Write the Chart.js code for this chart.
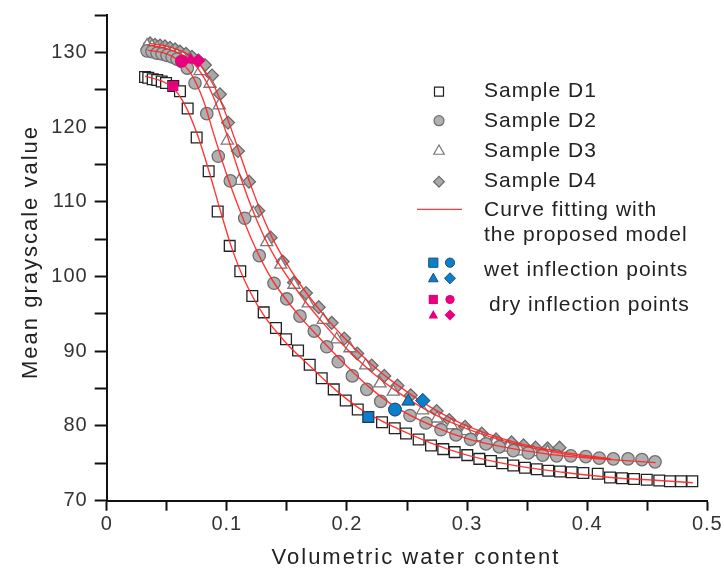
<!DOCTYPE html>
<html>
<head>
<meta charset="utf-8">
<script src="https://cdn.jsdelivr.net/npm/chart.js@4.4.0/dist/chart.umd.min.js"></script>
<style>
  body { margin: 0; background: #fff; }
  #wrap { width: 724px; height: 570px; }
</style>
</head>
<body>
<div id="wrap"><canvas id="chartCanvas" width="724" height="570"></canvas></div>
<script>
// Sample D1 (squares)
const d1X = [0.0319, 0.0346, 0.0383, 0.0421, 0.0458, 0.0494, 0.0554, 0.0610, 0.0674, 0.0749, 0.0849, 0.0924,
    0.1024, 0.1112, 0.1212, 0.1307, 0.1409, 0.1493, 0.1593, 0.1690, 0.1790, 0.1890, 0.1990, 0.2090, 0.2178,
    0.2292, 0.2398, 0.2492, 0.2597, 0.2700, 0.2802, 0.2897, 0.3002, 0.3102, 0.3199, 0.3293, 0.3385, 0.3482,
    0.3580, 0.3676, 0.3774, 0.3871, 0.3968, 0.4088, 0.4190, 0.4290, 0.4390, 0.4496, 0.4600, 0.4689, 0.4781, 0.4875];
const d1Y = [126.7, 126.6, 126.4, 126.3, 126.1, 125.9, 125.5, 124.8, 122.5, 118.6, 114.1, 108.7,
    104.1, 100.7, 97.4, 95.2, 93.1, 91.6, 90.1, 88.2, 86.4, 84.9, 83.4, 82.2, 81.2,
    80.5, 79.7, 79.0, 78.2, 77.4, 76.9, 76.5, 76.1, 75.6, 75.3, 75.0, 74.7, 74.4,
    74.2, 74.0, 73.9, 73.8, 73.7, 73.6, 73.1, 73.0, 72.9, 72.8, 72.7, 72.6, 72.6, 72.6];

// Sample D2 (circles)
const d2X = [0.0336, 0.0377, 0.0419, 0.0460, 0.0502, 0.0544, 0.0585, 0.0624, 0.0671, 0.0735, 0.0833, 0.0929,
    0.1029, 0.1149, 0.1270, 0.1393, 0.1499, 0.1609, 0.1728, 0.1832, 0.1928, 0.2045, 0.2165, 0.2281, 0.2400,
    0.2525, 0.2658, 0.2783, 0.2908, 0.3030, 0.3158, 0.3268, 0.3385, 0.3510, 0.3630, 0.3746, 0.3863, 0.3988,
    0.4101, 0.4218, 0.4340, 0.4456, 0.4565];
const d2Y = [130.2, 130.1, 129.9, 129.8, 129.6, 129.4, 129.1, 128.8, 127.9, 125.9, 121.8, 116.1,
    112.8, 107.8, 102.8, 99.1, 97.0, 94.7, 92.7, 90.6, 88.6, 86.7, 84.9, 83.3, 82.2,
    81.4, 80.4, 79.5, 78.8, 78.2, 77.6, 77.2, 76.7, 76.4, 76.1, 76.0, 76.0, 75.9,
    75.7, 75.6, 75.6, 75.5, 75.2];

// Sample D3 (triangles)
const d3X = [0.0336, 0.0377, 0.0419, 0.0460, 0.0502, 0.0544, 0.0585, 0.0635, 0.0699, 0.0777, 0.0860, 0.0937,
    0.1004, 0.1104, 0.1220, 0.1332, 0.1449, 0.1559, 0.1678, 0.1803, 0.1915, 0.2025, 0.2156, 0.2275, 0.2386,
    0.2511, 0.2630, 0.2750, 0.2870, 0.2990, 0.3110, 0.3230, 0.3340, 0.3440, 0.3550, 0.3670];
const d3Y = [130.9, 130.8, 130.6, 130.4, 130.2, 130.0, 129.7, 129.4, 129.0, 127.5, 125.8, 122.9,
    118.2, 112.8, 108.5, 104.6, 101.6, 98.9, 96.4, 94.2, 91.6, 90.4, 88.1, 85.7, 84.6,
    83.3, 82.1, 81.0, 80.1, 79.3, 78.5, 77.8, 77.1, 76.6, 76.5, 76.5];

// Sample D4 (diamonds)
const d4X = [0.0361, 0.0402, 0.0444, 0.0485, 0.0527, 0.0569, 0.0610, 0.0660, 0.0710, 0.0763, 0.0818, 0.0877,
    0.0943, 0.1010, 0.1093, 0.1185, 0.1262, 0.1365, 0.1465, 0.1559, 0.1659, 0.1765, 0.1873, 0.1978, 0.2086,
    0.2206, 0.2311, 0.2421, 0.2531, 0.2631, 0.2747, 0.2852, 0.2983, 0.3122, 0.3241, 0.3370, 0.3470, 0.3570,
    0.3670, 0.3770];
const d4Y = [131.2, 131.0, 130.9, 130.8, 130.6, 130.4, 130.1, 129.8, 129.4, 128.9, 128.3, 126.9,
    124.4, 120.6, 116.8, 112.7, 108.8, 105.2, 102.0, 99.2, 97.8, 95.9, 93.8, 91.7, 89.7,
    88.1, 86.7, 85.4, 84.1, 83.4, 82.0, 80.8, 79.9, 79.0, 78.2, 77.8, 77.4, 77.1,
    77.0, 77.1];

// fitted curves
const fit1X = [0.032, 0.045, 0.055, 0.065, 0.075, 0.085, 0.095, 0.105, 0.115, 0.13, 0.15, 0.17, 0.19, 0.21,
    0.24, 0.27, 0.30, 0.34, 0.38, 0.42, 0.46, 0.488];
const fit1Y = [126.8, 126.2, 125.3, 123.0, 119.2, 114.2, 108.6, 103.4, 99.4, 95.0, 91.0, 87.9, 84.9, 82.4,
    79.8, 77.7, 76.1, 74.7, 73.8, 73.1, 72.7, 72.4];
const fit2X = [0.034, 0.05, 0.06, 0.07, 0.08, 0.09, 0.10, 0.11, 0.12, 0.13, 0.14, 0.16, 0.18, 0.20, 0.22,
    0.24, 0.27, 0.30, 0.34, 0.38, 0.42, 0.457];
const fit2Y = [130.3, 129.8, 128.9, 127.2, 123.8, 118.6, 113.6, 109.2, 105.2, 101.8, 99.0, 94.8, 91.3, 88.0, 85.0,
    82.6, 80.1, 78.3, 76.9, 76.0, 75.5, 75.1];
const fit3X = [0.034, 0.05, 0.06, 0.07, 0.08, 0.09, 0.10, 0.11, 0.12, 0.13, 0.14, 0.16, 0.18, 0.20, 0.22,
    0.24, 0.27, 0.30, 0.34, 0.38, 0.42];
const fit3Y = [131.0, 130.5, 129.9, 128.9, 126.9, 123.6, 119.0, 114.0, 109.5, 105.7, 102.6, 97.8, 93.8, 90.3, 87.3,
    84.8, 81.8, 79.6, 77.6, 76.3, 75.5];
const fit4X = [0.036, 0.05, 0.06, 0.07, 0.08, 0.09, 0.10, 0.11, 0.12, 0.13, 0.14, 0.16, 0.18, 0.20, 0.22,
    0.24, 0.27, 0.30, 0.34, 0.38, 0.42];
const fit4Y = [131.2, 130.8, 130.3, 129.5, 127.9, 125.3, 121.4, 116.8, 112.2, 108.0, 104.5, 99.2, 95.0, 91.4, 88.3,
    85.7, 82.5, 80.0, 77.8, 76.5, 75.6];

// inflection points, in order D1, D2, D3, D4
const dryX = [0.0554, 0.0624, 0.0699, 0.0763];
const dryY = [125.5, 128.8, 129.0, 128.9];
const wetX = [0.2178, 0.2400, 0.2511, 0.2631];
const wetY = [81.2, 82.2, 83.3, 83.4];

const legendLabels = ['Sample D1', 'Sample D2', 'Sample D3', 'Sample D4',
    'Curve fitting with', 'the proposed model', 'wet inflection points', 'dry inflection points'];
const xTitle = 'Volumetric water content';
const yTitle = 'Mean grayscale value';

const FONT = '"Liberation Sans", Arial, sans-serif';
const PINK = '#e6007e';
const BLUE = '#0a7fcc';
const RED = 'rgba(255, 35, 35, 0.9)';

function pts(xs, ys) {
    return xs.map((x, i) => ({ x: x, y: ys[i] }));
}

function marker(ctx, style, x, y, r, fill, stroke, lw) {
    ctx.beginPath();
    if (style === 'rect') {
        ctx.rect(x - r, y - r, 2 * r, 2 * r);
    } else if (style === 'circle') {
        ctx.arc(x, y, r, 0, Math.PI * 2);
    } else if (style === 'triangle') {
        ctx.moveTo(x, y - r * 1.1);
        ctx.lineTo(x + r * 1.05, y + r * 0.75);
        ctx.lineTo(x - r * 1.05, y + r * 0.75);
        ctx.closePath();
    } else {
        ctx.moveTo(x, y - r * 1.2);
        ctx.lineTo(x + r * 1.2, y);
        ctx.lineTo(x, y + r * 1.2);
        ctx.lineTo(x - r * 1.2, y);
        ctx.closePath();
    }
    ctx.fillStyle = fill;
    ctx.fill();
    if (lw > 0) {
        ctx.lineWidth = lw;
        ctx.strokeStyle = stroke;
        ctx.stroke();
    }
}

// legend + axis titles drawn by hand
const overlay = {
    id: 'overlay',
    beforeDraw(chart) {
        chart.ctx.letterSpacing = '1px';
    },
    afterDraw(chart) {
        const ctx = chart.ctx;
        ctx.save();
        ctx.fillStyle = '#222';
        ctx.textBaseline = 'middle';
        ctx.letterSpacing = '2px';
        ctx.font = '22px ' + FONT;
        ctx.textAlign = 'center';
        ctx.fillText(xTitle, 416, 558);
        ctx.save();
        ctx.translate(31, 252);
        ctx.rotate(-Math.PI / 2);
        ctx.fillText(yTitle, 0, 0);
        ctx.restore();

        // legend
        ctx.letterSpacing = '1px';
        ctx.font = '21px ' + FONT;
        ctx.textAlign = 'left';
        const rows = [91.7, 121.5, 151.5, 181.7, 210.7, 235, 270, 305];
        const tx = 484;
        legendLabels.forEach((t, i) => {
            ctx.fillStyle = '#222';
            ctx.fillText(t, i === 7 ? tx + 5 : tx, rows[i]);
        });
        marker(ctx, 'rect', 439, 91.7, 4.5, '#fff', '#222', 1.2);
        marker(ctx, 'circle', 439, 120.7, 5, '#b0b0b0', '#6e6e6e', 1.2);
        marker(ctx, 'triangle', 439, 150.5, 5, '#fff', '#777', 1.2);
        marker(ctx, 'diamond', 439, 181.7, 4.5, '#a8a8a8', '#6a6a6a', 1.2);
        ctx.beginPath();
        ctx.moveTo(417, 209.3);
        ctx.lineTo(462, 209.3);
        ctx.lineWidth = 1.3;
        ctx.strokeStyle = RED;
        ctx.stroke();
        const g = [['rect', 433.3, 0], ['circle', 450, 0], ['triangle', 433.3, 15.6], ['diamond', 450, 15.6]];
        g.forEach(m => {
            marker(ctx, m[0], m[1], 262.7 + m[2], 4.6, BLUE, '#1d4d7a', 1);
            marker(ctx, m[0], m[1], 299.5 + m[2], 4.6, PINK, PINK, 0);
        });
        ctx.restore();
    }
};

const shapes = ['rect', 'circle', 'triangle', 'rectRot'];
const shapeRadius = [7.2, 6.4, 7.2, 7.2];

new Chart(document.getElementById('chartCanvas').getContext('2d'), {
    type: 'scatter',
    data: {
        datasets: [
            { label: 'dry', data: pts(dryX, dryY), order: 0, pointStyle: shapes, pointRadius: shapeRadius,
              backgroundColor: PINK, borderColor: PINK, borderWidth: 0 },
            { label: 'wet', data: pts(wetX, wetY), order: 0, pointStyle: shapes, pointRadius: shapeRadius,
              backgroundColor: BLUE, borderColor: '#1d4d7a', borderWidth: 1 },
            { label: 'fit1', data: pts(fit1X, fit1Y), order: 1, showLine: true, pointRadius: 0,
              borderColor: RED, borderWidth: 1.4, cubicInterpolationMode: 'monotone' },
            { label: 'fit2', data: pts(fit2X, fit2Y), order: 1, showLine: true, pointRadius: 0,
              borderColor: RED, borderWidth: 1.4, cubicInterpolationMode: 'monotone' },
            { label: 'fit3', data: pts(fit3X, fit3Y), order: 1, showLine: true, pointRadius: 0,
              borderColor: RED, borderWidth: 1.4, cubicInterpolationMode: 'monotone' },
            { label: 'fit4', data: pts(fit4X, fit4Y), order: 1, showLine: true, pointRadius: 0,
              borderColor: RED, borderWidth: 1.4, cubicInterpolationMode: 'monotone' },
            { label: 'Sample D1', data: pts(d1X, d1Y), order: 2, pointStyle: 'rect', pointRadius: 7.6,
              backgroundColor: '#fff', borderColor: '#222', borderWidth: 1.3 },
            { label: 'Sample D2', data: pts(d2X, d2Y), order: 3, pointStyle: 'circle', pointRadius: 6.2,
              backgroundColor: '#b0b0b0', borderColor: '#6e6e6e', borderWidth: 1.3 },
            { label: 'Sample D3', data: pts(d3X, d3Y), order: 4, pointStyle: 'triangle', pointRadius: 7,
              backgroundColor: '#fff', borderColor: '#7a7a7a', borderWidth: 1.3 },
            { label: 'Sample D4', data: pts(d4X, d4Y), order: 5, pointStyle: 'rectRot', pointRadius: 6.4,
              backgroundColor: '#a8a8a8', borderColor: '#6a6a6a', borderWidth: 1.3 }
        ]
    },
    options: {
        responsive: false,
        animation: false,
        layout: { padding: { left: 0, right: 16.7, top: 15, bottom: 0 } },
        plugins: {
            legend: { display: false },
            tooltip: { enabled: false }
        },
        scales: {
            x: {
                type: 'linear',
                min: 0,
                max: 0.5,
                ticks: {
                    stepSize: 0.05,
                    autoSkip: false,
                    maxRotation: 0,
                    padding: 2,
                    color: '#333',
                    font: { size: 20, family: FONT },
                    callback: v => {
                        const k = Math.round(v * 100);
                        if (k % 10 !== 0) return '';
                        return k === 0 ? '0' : (k / 100).toFixed(1);
                    }
                },
                grid: { drawOnChartArea: false, drawTicks: true, tickLength: 10, tickWidth: 2, tickColor: '#111' },
                border: { display: true, color: '#111', width: 2 },
                afterFit: s => { s.height = 69.3; s.paddingLeft = 0; s.paddingRight = 0; }
            },
            y: {
                min: 70,
                max: 135,
                ticks: {
                    stepSize: 5,
                    autoSkip: false,
                    padding: 7,
                    color: '#333',
                    font: { size: 20, family: FONT },
                    callback: v => (Math.round(v) % 10 === 0 ? String(Math.round(v)) : '')
                },
                grid: { drawOnChartArea: false, drawTicks: true, tickLength: 12, tickWidth: 2, tickColor: '#111' },
                border: { display: true, color: '#111', width: 2 },
                afterFit: s => { s.width = 106.7; s.paddingTop = 0; s.paddingBottom = 0; }
            }
        }
    },
    plugins: [overlay]
});
</script>
</body>
</html>
